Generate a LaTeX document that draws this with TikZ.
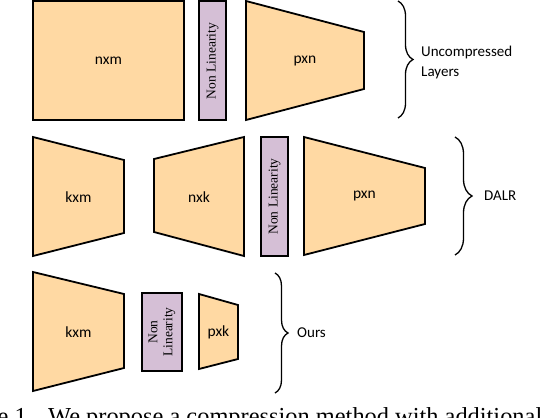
\documentclass[tikz,border=0pt]{standalone}
\usepackage{fontspec}
\setmainfont{Carlito}
\newfontfamily\seriffont{Liberation Serif}
\usetikzlibrary{decorations.pathreplacing}
\definecolor{layerfill}{HTML}{FFD9A3}
\definecolor{nlfill}{HTML}{D5BFD6}
\tikzset{
  layer/.style={draw=black, fill=layerfill, line width=1.8pt, line join=miter},
  nlbox/.style={draw=black, fill=nlfill, line width=1.8pt},
  lbl/.style={font=\fontsize{15.5}{18}\selectfont, inner sep=0pt},
  nltext/.style={font=\seriffont\fontsize{13.5}{15}\selectfont, rotate=90, align=center, inner sep=0pt},
  bracestyle/.style={decorate, decoration={brace, amplitude=#1}, line width=1.3pt},
  sidelbl/.style={font=\fontsize{15}{20}\selectfont, anchor=west, align=left, inner sep=0pt},
  captxt/.style={font=\seriffont\fontsize{24.4}{28}\selectfont, inner sep=0pt}
}
\begin{document}
\begin{tikzpicture}[x=1pt,y=-1pt]
\useasboundingbox (0,0) rectangle (544,418);
\clip (0,0) rectangle (544,418);
% row 1
\draw[layer] (33,1) rectangle (184,120);
\node[lbl] (nxm) at (108.5,61) {nxm};
\draw[nlbox] (199,1) rectangle (226,120);
\node[nltext] (nl1) at (212.5,61) {Non Linearity};
\draw[layer] (246,1) -- (364,32) -- (364,89) -- (246,120) -- cycle;
\node[lbl] (pxn1) at (305,61) {pxn};
% row 2
\draw[layer] (33,137) -- (124,160) -- (124,233) -- (33,256) -- cycle;
\node[lbl] (kxm2) at (78.5,197) {kxm};
\draw[layer] (154,159) -- (244,137) -- (244,256) -- (154,232) -- cycle;
\node[lbl] (nxk) at (199,197) {nxk};
\draw[nlbox] (261,137) rectangle (288,256);
\node[nltext] (nl2) at (274.5,196.5) {Non Linearity};
\draw[layer] (304,137) -- (425,168) -- (425,224) -- (304,255) -- cycle;
\node[lbl] (pxn2) at (364.5,196) {pxn};
% row 3
\draw[layer] (33,272) -- (124,294) -- (124,368) -- (33,391) -- cycle;
\node[lbl] (kxm3) at (78.5,332) {kxm};
\draw[nlbox] (142,293) rectangle (182,371);
\node[nltext] (nl3) at (162,332) {Non\\Linearity};
\draw[layer] (199,294) -- (238,305) -- (238,359) -- (199,369) -- cycle;
\node[lbl] (pxk) at (218.5,332) {pxk};
% braces
\coordinate (b1t) at (398,1);   \coordinate (b1b) at (398,118);
\coordinate (b2t) at (455,137); \coordinate (b2b) at (455,255);
\coordinate (b3t) at (275,273); \coordinate (b3b) at (275,393);
\draw[bracestyle=15pt] (b1t) -- (b1b);
\draw[bracestyle=17pt] (b2t) -- (b2b);
\draw[bracestyle=13pt] (b3t) -- (b3b);
\node[sidelbl] (unc) at (421,62) {Uncompressed\\Layers};
\node[sidelbl] (dalr) at (484,196) {DALR};
\node[sidelbl] (ours) at (297,333) {Ours};
% caption (cut by the frame)
\node[captxt, anchor=base east] (capa) at (33,424) {Figure 1.};
\node[captxt, anchor=base west] (capb) at (48,424) {We propose a compression method with additional};
\end{tikzpicture}
\end{document}
